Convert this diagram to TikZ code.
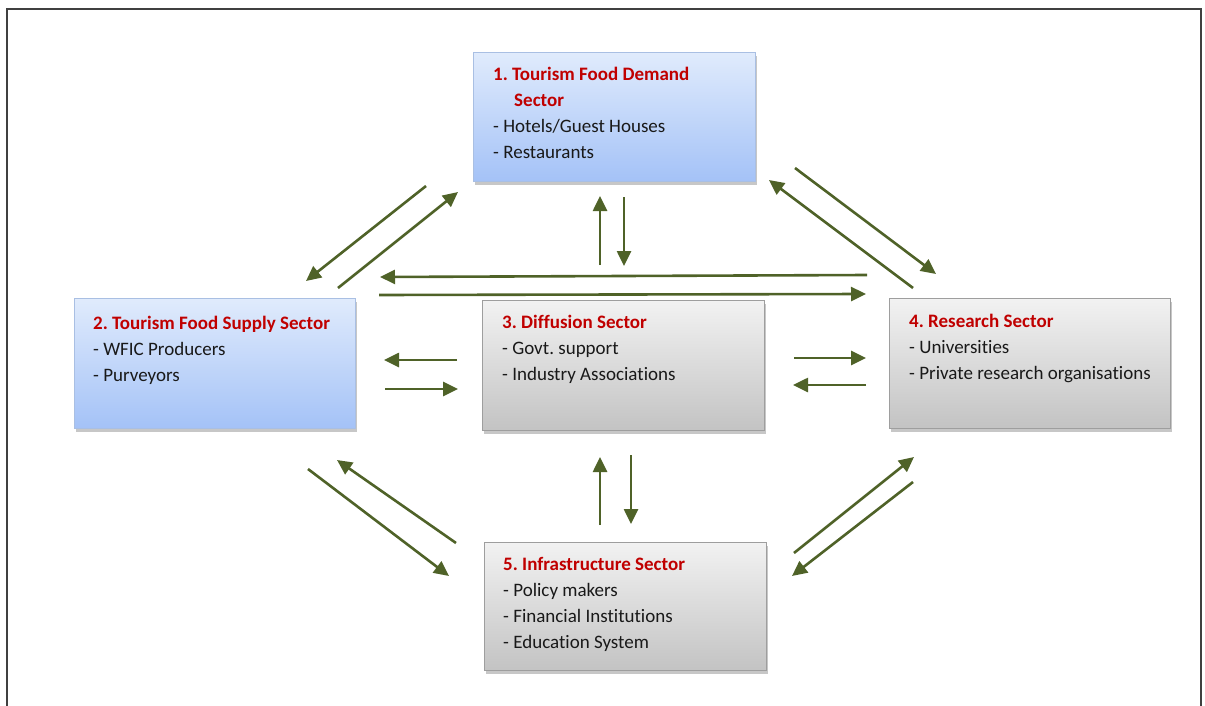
\documentclass[tikz,border=0pt]{standalone}
\usepackage{fontspec}
\setmainfont{Carlito}[Ligatures={NoCommon,NoContextual}]
\usetikzlibrary{arrows.meta,shadows}
\definecolor{arrowgreen}{HTML}{4F6228}
\definecolor{titlered}{HTML}{C00000}
\definecolor{bluetop}{HTML}{E0EBFC}
\definecolor{bluebot}{HTML}{A4C2F7}
\definecolor{blueedge}{HTML}{A9BFE3}
\definecolor{graytop}{HTML}{F2F2F2}
\definecolor{graybot}{HTML}{C3C3C3}
\definecolor{grayedge}{HTML}{9E9E9E}
\frenchspacing
\newcommand{\sectortext}[1]{\parbox[t]{270pt}{\fontsize{19}{26}\selectfont\raggedright #1}}
\newcommand{\sectortitle}[1]{{\bfseries\color{titlered}#1}}
\tikzset{
  sectorbox/.style={rectangle, anchor=north west, inner sep=0pt, line width=0.8pt,
    drop shadow={shadow xshift=2pt, shadow yshift=-4pt, opacity=0.22, fill=black}},
  bluebox/.style={sectorbox, draw=blueedge, top color=bluetop, bottom color=bluebot},
  graybox/.style={sectorbox, draw=grayedge, top color=graytop, bottom color=graybot},
  sectorlabel/.style={anchor=base west, inner sep=0pt, text=black!90},
  flow/.style={draw=arrowgreen, line width=2.6pt,
    -{Triangle[length=15pt, width=14pt]}}
}
\begin{document}
\begin{tikzpicture}[x=1pt, y=-1pt]
\useasboundingbox (0,0) rectangle (1205,706);
% outer frame, open at the bottom edge
\draw[line width=1.3pt, black!75] (7,712) |- (1201,9) -- (1201,712);

% sector boxes
\node[bluebox, minimum width=282pt, minimum height=129pt] (demand) at (473,52) {};
\node[bluebox, minimum width=281pt, minimum height=130pt] (supply) at (74,298) {};
\node[graybox, minimum width=282pt, minimum height=130pt] (diffusion) at (482,300) {};
\node[graybox, minimum width=281pt, minimum height=130pt] (research) at (889,298) {};
\node[graybox, minimum width=282pt, minimum height=128pt] (infra) at (484,542) {};

% sector texts
\node[sectorlabel] (demandtxt) at (493,67) {\sectortext{\sectortitle{1. Tourism Food Demand}\\
  \hspace*{21pt}\sectortitle{Sector}\\- Hotels/Guest Houses\\- Restaurants}};
\node[sectorlabel] (supplytxt) at (93,316) {\sectortext{\sectortitle{2. Tourism Food Supply Sector}\\
  - WFIC Producers\\- Purveyors}};
\node[sectorlabel] (diffusiontxt) at (502,315) {\sectortext{\sectortitle{3. Diffusion Sector}\\
  - Govt. support\\- Industry Associations}};
\node[sectorlabel] (researchtxt) at (909,314) {\sectortext{\sectortitle{4. Research Sector}\\
  - Universities\\- Private research organisations}};
\node[sectorlabel] (infratxt) at (503,557) {\sectortext{\sectortitle{5. Infrastructure Sector}\\
  - Policy makers\\- Financial Institutions\\- Education System}};

% arrow end points
\coordinate (ds1) at (426,186); \coordinate (ds2) at (306,281);
\coordinate (sd1) at (338,288); \coordinate (sd2) at (458,192);
\coordinate (dr1) at (795,168); \coordinate (dr2) at (936,274);
\coordinate (rd1) at (913,288); \coordinate (rd2) at (769,180);
\coordinate (fd1) at (600,265); \coordinate (fd2) at (600,196);
\coordinate (df1) at (624,197); \coordinate (df2) at (624,266);
\coordinate (rs1) at (867,275); \coordinate (rs2) at (380,277);
\coordinate (sr1) at (379,295); \coordinate (sr2) at (866,294);
\coordinate (fs1) at (457,360); \coordinate (fs2) at (384,360);
\coordinate (sf1) at (385,389); \coordinate (sf2) at (458,389);
\coordinate (fr1) at (794,358); \coordinate (fr2) at (866,358);
\coordinate (rf1) at (866,385); \coordinate (rf2) at (793,385);
\coordinate (if1) at (600,525); \coordinate (if2) at (600,457);
\coordinate (fi1) at (631,455); \coordinate (fi2) at (631,524);
\coordinate (si1) at (308,469); \coordinate (si2) at (449,576);
\coordinate (is1) at (456,543); \coordinate (is2) at (337,460);
\coordinate (ir1) at (794,553); \coordinate (ir2) at (914,457);
\coordinate (ri1) at (913,482); \coordinate (ri2) at (792,576);

% flows between sectors
\foreach \a in {ds,sd,dr,rd,fd,df,rs,sr,fs,sf,fr,rf,if,fi,si,is,ir,ri}
  \draw[flow] (\a1) -- (\a2);
\end{tikzpicture}
\end{document}
